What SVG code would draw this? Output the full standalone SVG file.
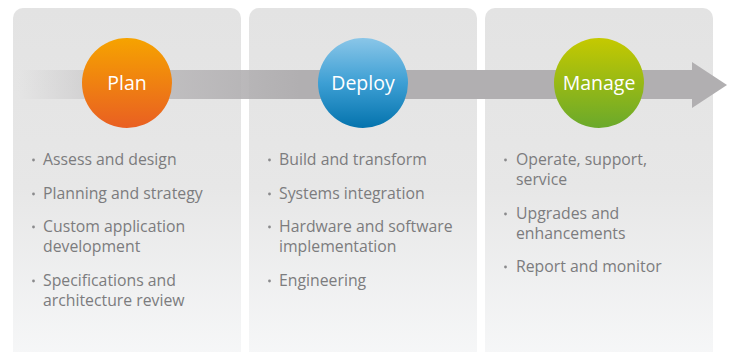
<svg xmlns="http://www.w3.org/2000/svg" width="732" height="352" viewBox="0 0 732 352">
<defs>
<linearGradient id="panelG" x1="0" y1="0" x2="0" y2="1">
<stop offset="0" stop-color="#e3e3e3"/>
<stop offset="0.5" stop-color="#e7e7e7"/>
<stop offset="1" stop-color="#f7f8f9"/>
</linearGradient>
<linearGradient id="bandG" gradientUnits="userSpaceOnUse" x1="18" y1="0" x2="300" y2="0">
<stop offset="0" stop-color="#b3b1b3" stop-opacity="0"/>
<stop offset="0.45" stop-color="#b3b1b3" stop-opacity="0.7"/>
<stop offset="1" stop-color="#b1afb1" stop-opacity="1"/>
</linearGradient>
<linearGradient id="planG" x1="0" y1="0" x2="0" y2="1">
<stop offset="0" stop-color="#f6a300"/>
<stop offset="1" stop-color="#e95f22"/>
</linearGradient>
<linearGradient id="deployG" x1="0" y1="0" x2="0" y2="1">
<stop offset="0" stop-color="#8ac6e8"/>
<stop offset="0.5" stop-color="#3d9fd4"/>
<stop offset="1" stop-color="#0473ad"/>
</linearGradient>
<linearGradient id="manageG" x1="0" y1="0" x2="0" y2="1">
<stop offset="0" stop-color="#c5c900"/>
<stop offset="1" stop-color="#6aa92b"/>
</linearGradient>
</defs>
<style>
.panel{fill:url(#panelG)}
.lbl{font-family:"Open Sans","Liberation Sans",sans-serif;font-size:19.5px;fill:#ffffff;text-anchor:middle}
.item{font-family:"Open Sans","Liberation Sans",sans-serif;font-size:15.8px;fill:#7c7c7e}
.dot{fill:#8a8a8c}
</style>
<rect class="panel" x="13" y="8" width="228" height="360" rx="10"/>
<rect class="panel" x="249" y="8" width="228" height="360" rx="10"/>
<rect class="panel" x="485" y="8" width="228" height="360" rx="10"/>
<g id="connectors">
<rect x="18" y="70" width="674" height="29" fill="url(#bandG)"/>
<polygon points="692,62 727,85 692,108" fill="#b1afb1"/>
</g>
<g id="plan">
<circle cx="127" cy="83" r="45" fill="url(#planG)"/>
<text class="lbl" x="127" y="90">Plan</text>
<circle class="dot" cx="33.5" cy="160" r="1.4"/>
<text class="item" x="43" y="165">Assess and design</text>
<circle class="dot" cx="33.5" cy="194" r="1.4"/>
<text class="item" x="43" y="199">Planning and strategy</text>
<circle class="dot" cx="33.5" cy="227" r="1.4"/>
<text class="item" x="43" y="232">Custom application</text>
<text class="item" x="43" y="252">development</text>
<circle class="dot" cx="33.5" cy="281" r="1.4"/>
<text class="item" x="43" y="286">Specifications and</text>
<text class="item" x="43" y="306">architecture review</text>
</g>
<g id="deploy">
<circle cx="363" cy="83" r="45" fill="url(#deployG)"/>
<text class="lbl" x="363" y="90">Deploy</text>
<circle class="dot" cx="269.5" cy="160" r="1.4"/>
<text class="item" x="279" y="165">Build and transform</text>
<circle class="dot" cx="269.5" cy="194" r="1.4"/>
<text class="item" x="279" y="199">Systems integration</text>
<circle class="dot" cx="269.5" cy="227" r="1.4"/>
<text class="item" x="279" y="232">Hardware and software</text>
<text class="item" x="279" y="252">implementation</text>
<circle class="dot" cx="269.5" cy="281" r="1.4"/>
<text class="item" x="279" y="286">Engineering</text>
</g>
<g id="manage">
<circle cx="599" cy="83" r="45" fill="url(#manageG)"/>
<text class="lbl" x="599" y="90">Manage</text>
<circle class="dot" cx="505.5" cy="160" r="1.4"/>
<text class="item" x="516" y="165">Operate, support,</text>
<text class="item" x="516" y="185">service</text>
<circle class="dot" cx="505.5" cy="214" r="1.4"/>
<text class="item" x="516" y="219">Upgrades and</text>
<text class="item" x="516" y="239">enhancements</text>
<circle class="dot" cx="505.5" cy="267" r="1.4"/>
<text class="item" x="516" y="272">Report and monitor</text>
</g>
</svg>
